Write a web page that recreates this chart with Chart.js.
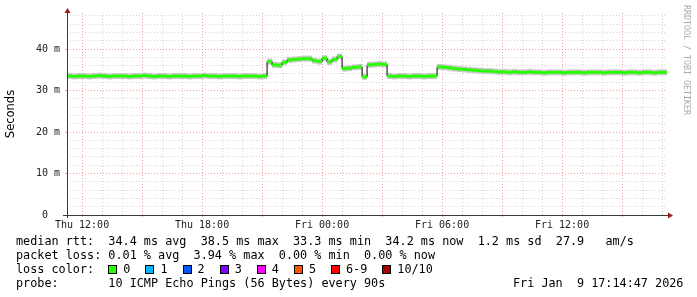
<!DOCTYPE html>
<html>
<head>
<meta charset="utf-8">
<title>smokeping</title>
<script src="https://cdn.jsdelivr.net/npm/chart.js@4/dist/chart.umd.min.js"></script>
<style>
  html, body { margin: 0; padding: 0; background: #fff; }
  #wrap { position: relative; width: 697px; height: 297px; overflow: hidden; }
  #wrap canvas { position: absolute; left: 0; top: 0; }
  .leg { position: absolute; left: 16px; font: 11.8px 'DejaVu Sans Mono', monospace; line-height: 14px; white-space: pre; color: #000; }
  .sq { display: inline-block; width: 7px; height: 7px; border: 1px solid #000; vertical-align: -1px; margin-right: 6px; }
  .item { margin-right: 15px; }
  #credit { position: absolute; left: 682px; top: 5px; writing-mode: vertical-rl; font: 8.3px 'DejaVu Sans Mono', monospace; color: #aaa; letter-spacing: 0; }
</style>
</head>
<body>
<div id="wrap">
  <canvas id="pingChart"></canvas>
  <div id="credit">RRDTOOL / TOBI OETIKER</div>
  <div class="leg" id="l1" style="top:234px"></div>
  <div class="leg" id="l2" style="top:248px"></div>
  <div class="leg" id="l3" style="top:262px"></div>
  <div class="leg" id="l4" style="top:276px"></div>
  <div class="leg" id="stamp" style="top:276px; left:513px"></div>
</div>
<script>
// graph window: Thu 11:14:47 .. Fri 17:14:47 (hours since Thu 00:00)
const viewStart = 11 + 14 / 60 + 47 / 3600;
const viewHours = 30;

// median rtt, one value per 15 minutes starting Thu 11:15
const startHour = 11.25;
const stepHours = 0.25;
const medianRtt = [
  33.5, 33.4, 33.5, 33.5, 33.4, 33.5, 33.6, 33.5, 33.4, 33.5,
  33.5, 33.5, 33.4, 33.5, 33.5, 33.6, 33.5, 33.4, 33.5, 33.5,
  33.4, 33.5, 33.5, 33.5, 33.4, 33.5, 33.5, 33.6, 33.5, 33.5,
  33.4, 33.5, 33.5, 33.5, 33.4, 33.5, 33.5, 33.5, 33.4, 33.5,
  37.0, 36.2, 36.1, 36.8, 37.4, 37.5, 37.6, 37.7, 37.7,
  37.2, 37.0, 37.8, 36.9, 37.5, 38.2,
  35.3, 35.4, 35.6, 35.7,
  33.3,
  36.2, 36.3, 36.4, 36.3,
  33.5, 33.4, 33.5, 33.5, 33.4, 33.5, 33.5, 33.4, 33.5, 33.5,
  35.7, 35.6, 35.5, 35.3, 35.2, 35.1, 35.0, 34.9, 34.8, 34.7, 34.7, 34.6, 34.5,
  34.5, 34.4, 34.5, 34.4, 34.4, 34.5, 34.4, 34.4, 34.3, 34.4,
  34.4, 34.4, 34.3, 34.4, 34.4, 34.4, 34.3, 34.4, 34.4, 34.4,
  34.3, 34.4, 34.4, 34.4, 34.3, 34.4, 34.4, 34.3, 34.4, 34.4,
  34.3, 34.4, 34.4
];

const xTickHours = [12, 18, 24, 30, 36];
const xTickLabels = ['Thu 12:00', 'Thu 18:00', 'Fri 00:00', 'Fri 06:00', 'Fri 12:00'];
const yTickValues = [0, 10, 20, 30, 40];
const yTickLabels = ['0  ', '10 m', '20 m', '30 m', '40 m'];
const yMax = 48.7;

const lossLabels = ['0', '1', '2', '3', '4', '5', '6-9', '10/10'];
const lossColors = ['#26ff00', '#00b8ff', '#0059ff', '#7e00ff', '#ff00ff', '#ff5500', '#ff0000', '#a10000'];

const legendLines = [
  'median rtt:  34.4 ms avg  38.5 ms max  33.3 ms min  34.2 ms now  1.2 ms sd  27.9   am/s',
  'packet loss: 0.01 % avg  3.94 % max  0.00 % min  0.00 % now',
  'probe:       10 ICMP Echo Pings (56 Bytes) every 90s'
];
const stampText = 'Fri Jan  9 17:14:47 2026';

const majorGrid = 'rgba(225, 110, 110, 0.65)';
const minorGrid = 'rgba(185, 185, 185, 0.6)';

const points = medianRtt.map((v, i) => ({ x: startHour + (i + 0.5) * stepHours, y: v }));

// axes with arrows like rrdtool
const rrdAxes = {
  id: 'rrdAxes',
  afterDatasetsDraw(chart) {
    const { ctx, chartArea: a } = chart;
    ctx.save();
    ctx.strokeStyle = '#3a3a3a';
    ctx.lineWidth = 1;
    ctx.beginPath();
    ctx.moveTo(a.left - 4, a.bottom + 0.5);
    ctx.lineTo(a.right + 2, a.bottom + 0.5);
    ctx.moveTo(a.left + 0.5, a.bottom + 3);
    ctx.lineTo(a.left + 0.5, a.top - 2);
    ctx.stroke();
    ctx.fillStyle = '#9a1c1c';
    ctx.beginPath();
    ctx.moveTo(a.left + 0.5, a.top - 5);
    ctx.lineTo(a.left - 2.5, a.top);
    ctx.lineTo(a.left + 3.5, a.top);
    ctx.closePath();
    ctx.fill();
    ctx.beginPath();
    ctx.moveTo(a.right + 6, a.bottom + 0.5);
    ctx.lineTo(a.right + 1, a.bottom - 2.5);
    ctx.lineTo(a.right + 1, a.bottom + 3.5);
    ctx.closePath();
    ctx.fill();
    ctx.restore();
  }
};

document.addEventListener('DOMContentLoaded', function () {
  document.getElementById('l1').textContent = legendLines[0];
  document.getElementById('l2').textContent = legendLines[1];
  document.getElementById('l4').textContent = legendLines[2];
  document.getElementById('stamp').textContent = stampText;

  const l3 = document.getElementById('l3');
  l3.appendChild(document.createTextNode('loss color:  '));
  lossLabels.forEach((lab, i) => {
    const item = document.createElement('span');
    item.className = 'item';
    const sq = document.createElement('span');
    sq.className = 'sq';
    sq.style.background = lossColors[i];
    item.appendChild(sq);
    item.appendChild(document.createTextNode(lab));
    l3.appendChild(item);
  });

  const ctx = document.getElementById('pingChart');
  new Chart(ctx, {
    type: 'line',
    data: {
      datasets: [{
        label: 'median',
        data: points,
        showLine: false,
        pointStyle: 'line',
        pointRadius: 2.5,
        pointHoverRadius: 2.5,
        pointBorderWidth: 3,
        pointBorderColor: lossColors[0],
        order: 0
      }, {
        label: 'median line',
        data: points,
        stepped: 'middle',
        borderColor: '#000',
        borderWidth: 1,
        pointRadius: 0,
        order: 1
      }, {
        label: 'smoke',
        data: points,
        showLine: false,
        pointStyle: 'line',
        pointRadius: 2.5,
        pointHoverRadius: 2.5,
        pointBorderWidth: 6,
        pointBorderColor: '#c8c8c8',
        order: 2
      }]
    },
    options: {
      responsive: true,
      maintainAspectRatio: false,
      animation: false,
      events: [],
      layout: { padding: { left: 0, right: 30, top: 13, bottom: 62 } },
      plugins: {
        legend: { display: false },
        tooltip: { enabled: false }
      },
      scales: {
        x: {
          type: 'linear',
          min: viewStart,
          max: viewStart + viewHours,
          afterBuildTicks: (scale) => {
            const t = [];
            for (let h = 12; h <= 41; h++) t.push({ value: h });
            scale.ticks = t;
          },
          afterFit: (scale) => { scale.height = 20; },
          border: { display: false, dash: [1, 2] },
          grid: {
            color: (c) => (c.tick && c.tick.value % 3 === 0 ? majorGrid : minorGrid),
            tickColor: (c) => (c.tick && c.tick.value % 3 === 0 ? majorGrid : 'rgba(0,0,0,0)'),
            tickLength: 2,
            lineWidth: 1
          },
          ticks: {
            autoSkip: false,
            maxRotation: 0,
            padding: 2,
            color: '#222',
            font: { family: 'DejaVu Sans Mono', size: 10 },
            callback: (v) => {
              const i = xTickHours.indexOf(v);
              return i >= 0 ? xTickLabels[i] : '';
            }
          }
        },
        y: {
          min: 0,
          max: yMax,
          afterBuildTicks: (scale) => {
            const t = [];
            for (let v = 0; v <= 48; v += 2) t.push({ value: v });
            scale.ticks = t;
          },
          afterFit: (scale) => { scale.width = 67; },
          border: { display: false, dash: [1, 2] },
          grid: {
            color: (c) => (c.tick && c.tick.value % 10 === 0 ? majorGrid : minorGrid),
            tickColor: (c) => (c.tick && c.tick.value % 10 === 0 ? majorGrid : 'rgba(0,0,0,0)'),
            tickLength: 2
          },
          title: {
            display: true,
            text: 'Seconds',
            color: '#000',
            font: { family: 'DejaVu Sans', size: 11.5 },
            padding: { top: 4, bottom: 0 }
          },
          ticks: {
            autoSkip: false,
            padding: 5,
            color: '#222',
            font: { family: 'DejaVu Sans Mono', size: 10 },
            callback: (v) => {
              const i = yTickValues.indexOf(v);
              return i >= 0 ? yTickLabels[i] : '';
            }
          }
        }
      }
    },
    plugins: [rrdAxes]
  });
});
</script>
</body>
</html>
